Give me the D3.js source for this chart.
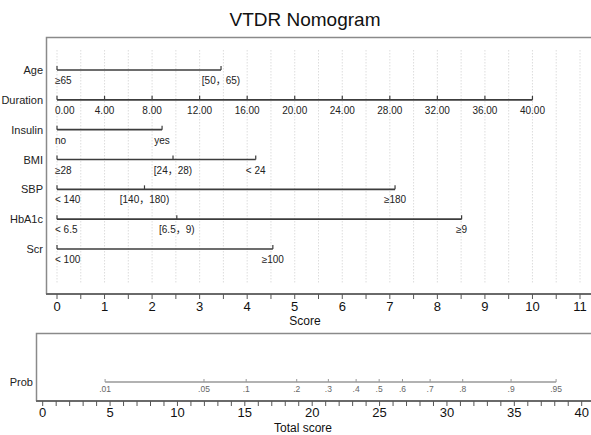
<!DOCTYPE html>
<html>
<head>
<meta charset="utf-8">
<script src="https://cdn.jsdelivr.net/npm/d3@7/dist/d3.min.js"></script>
<style>
  body { margin: 0; background: #fff; }
  svg { font-family: "Liberation Sans", Arial, "Noto Sans CJK SC", sans-serif; }
</style>
</head>
<body>
<svg id="nomogram" width="591" height="435"></svg>
<script>
var title = "VTDR Nomogram";

// points assigned to each level
var variables = ["Age", "Duration", "Insulin", "BMI", "SBP", "HbA1c", "Scr"];
var ageLabels = ["≥65", "[50，65)"],              agePoints = [0, 3.45];
var durationTicks = [0, 4, 8, 12, 16, 20, 24, 28, 32, 36, 40], durationMaxPoints = 10;
var insulinLabels = ["no", "yes"],                insulinPoints = [0, 2.21];
var bmiLabels = ["≥28", "[24，28)", "< 24"],      bmiPoints = [0, 2.44, 4.18];
var sbpLabels = ["< 140", "[140，180)", "≥180"],  sbpPoints = [0, 1.84, 7.11];
var hba1cLabels = ["< 6.5", "[6.5，9)", "≥9"],    hba1cPoints = [0, 2.52, 8.51];
var scrLabels = ["< 100", "≥100"],                scrPoints = [0, 4.54];

var scoreTicks = d3.range(0, 12);
var totalTicks = [0, 5, 10, 15, 20, 25, 30, 35, 40];
var probLabels = [".01", ".05", ".1", ".2", ".3", ".4", ".5", ".6", ".7", ".8", ".9", ".95"];
var probTotals = [4.63, 11.97, 15.1, 18.85, 21.2, 23.26, 24.97, 26.7, 28.75, 31.17, 34.76, 38.1];

var svg = d3.select("#nomogram");

var x = d3.scaleLinear().domain([0, 11]).range([57, 580]);
var xt = d3.scaleLinear().domain([0, 40]).range([42.7, 581.7]);
var y = d3.scalePoint().domain(variables).range([70, 249]);

// build the rows
var durScale = d3.scaleLinear().domain([0, 40]).range([0, durationMaxPoints]);
var rows = [
  { name: "Age", labels: ageLabels, points: agePoints },
  { name: "Duration", labels: durationTicks.map(function(d) { return d3.format(".2f")(d); }),
    points: durationTicks.map(durScale) },
  { name: "Insulin", labels: insulinLabels, points: insulinPoints },
  { name: "BMI", labels: bmiLabels, points: bmiPoints },
  { name: "SBP", labels: sbpLabels, points: sbpPoints },
  { name: "HbA1c", labels: hba1cLabels, points: hba1cPoints },
  { name: "Scr", labels: scrLabels, points: scrPoints }
];

// title
svg.append("text")
    .attr("x", 305).attr("y", 26)
    .attr("text-anchor", "middle")
    .style("font-size", "19px")
    .attr("fill", "#111")
    .text(title);

// top panel frame
var panel = svg.append("g");
panel.append("path")
    .attr("d", "M591,37.5H46.5V294")
    .attr("fill", "none")
    .attr("stroke", "#8a8a8a")
    .attr("stroke-width", 1.5);

// dotted grid every half point
panel.append("g").selectAll("line")
    .data(d3.range(0, 11.01, 0.5))
  .enter().append("line")
    .attr("x1", function(d) { return x(d); })
    .attr("x2", function(d) { return x(d); })
    .attr("y1", 50).attr("y2", 283)
    .attr("stroke", "#d4d4d4")
    .attr("stroke-width", 0.8)
    .attr("stroke-dasharray", "1.5,1.5");

// rows
var row = panel.selectAll(".row")
    .data(rows)
  .enter().append("g")
    .attr("class", "row")
    .attr("transform", function(d) { return "translate(0," + y(d.name) + ")"; });

row.append("text")
    .attr("x", 43).attr("y", 4)
    .attr("text-anchor", "end")
    .style("font-size", "11px")
    .attr("fill", "#222")
    .text(function(d) { return d.name; });

row.append("line")
    .attr("x1", x(0))
    .attr("x2", function(d) { return x(d3.max(d.points)); })
    .attr("stroke", "#3c3c3c")
    .attr("stroke-width", 1.6);

row.selectAll(".tk")
    .data(function(d) { return d.points; })
  .enter().append("line")
    .attr("class", "tk")
    .attr("x1", function(d) { return x(d); })
    .attr("x2", function(d) { return x(d); })
    .attr("y1", -4).attr("y2", 0)
    .attr("stroke", "#3c3c3c")
    .attr("stroke-width", 1.2);

row.selectAll(".lb")
    .data(function(d) { return d.labels.map(function(l, i) { return { label: l, p: d.points[i] }; }); })
  .enter().append("text")
    .attr("class", "lb")
    .attr("x", function(d, i) { return i === 0 ? x(d.p) - 2 : x(d.p); })
    .attr("y", 14)
    .attr("text-anchor", function(d, i) { return i === 0 ? "start" : "middle"; })
    .style("font-size", "10px")
    .attr("fill", "#222")
    .text(function(d) { return d.label; });

// Score axis
var scoreAxis = panel.append("g").attr("transform", "translate(0,294)");
scoreAxis.append("line")
    .attr("x1", 46).attr("x2", 591)
    .attr("stroke", "#6a6a6a").attr("stroke-width", 2);
scoreAxis.selectAll(".minor")
    .data(d3.range(0, 11.01, 0.5))
  .enter().append("line")
    .attr("x1", function(d) { return x(d); })
    .attr("x2", function(d) { return x(d); })
    .attr("y1", 0).attr("y2", 5)
    .attr("stroke", "#555").attr("stroke-width", 1);
scoreAxis.selectAll(".lab")
    .data(scoreTicks)
  .enter().append("text")
    .attr("x", function(d) { return x(d); })
    .attr("y", 17)
    .attr("text-anchor", "middle")
    .style("font-size", "13px")
    .attr("fill", "#111")
    .text(function(d) { return d; });
svg.append("text")
    .attr("x", 305).attr("y", 325)
    .attr("text-anchor", "middle")
    .style("font-size", "12px")
    .attr("fill", "#111")
    .text("Score");

// bottom panel
var bottom = svg.append("g");
bottom.append("path")
    .attr("d", "M591,333.5H36.5V401")
    .attr("fill", "none")
    .attr("stroke", "#8a8a8a")
    .attr("stroke-width", 1.5);

bottom.append("text")
    .attr("x", 33).attr("y", 386)
    .attr("text-anchor", "end")
    .style("font-size", "11px")
    .attr("fill", "#222")
    .text("Prob");

bottom.append("line")
    .attr("x1", xt(probTotals[0]))
    .attr("x2", xt(probTotals[probTotals.length - 1]))
    .attr("y1", 382).attr("y2", 382)
    .attr("stroke", "#999").attr("stroke-width", 1.4);
bottom.selectAll(".ptk")
    .data(probTotals)
  .enter().append("line")
    .attr("class", "ptk")
    .attr("x1", function(d) { return xt(d); })
    .attr("x2", function(d) { return xt(d); })
    .attr("y1", 379).attr("y2", 382)
    .attr("stroke", "#999").attr("stroke-width", 1);
bottom.selectAll(".plb")
    .data(probTotals)
  .enter().append("text")
    .attr("class", "plb")
    .attr("x", function(d) { return xt(d); })
    .attr("y", 392)
    .attr("text-anchor", "middle")
    .style("font-size", "8.5px")
    .attr("fill", "#666")
    .text(function(d, i) { return probLabels[i]; });

var totalAxis = bottom.append("g").attr("transform", "translate(0,401)");
totalAxis.append("line")
    .attr("x1", 36).attr("x2", 591)
    .attr("stroke", "#6a6a6a").attr("stroke-width", 2);
totalAxis.selectAll(".minor")
    .data(d3.range(0, 41, 1))
  .enter().append("line")
    .attr("x1", function(d) { return xt(d); })
    .attr("x2", function(d) { return xt(d); })
    .attr("y1", 0).attr("y2", 5)
    .attr("stroke", "#555").attr("stroke-width", 1);
totalAxis.selectAll(".lab")
    .data(totalTicks)
  .enter().append("text")
    .attr("x", function(d) { return xt(d); })
    .attr("y", 16)
    .attr("text-anchor", "middle")
    .style("font-size", "13px")
    .attr("fill", "#111")
    .text(function(d) { return d; });
svg.append("text")
    .attr("x", 303).attr("y", 432)
    .attr("text-anchor", "middle")
    .style("font-size", "12px")
    .attr("fill", "#111")
    .text("Total score");
</script>
</body>
</html>
